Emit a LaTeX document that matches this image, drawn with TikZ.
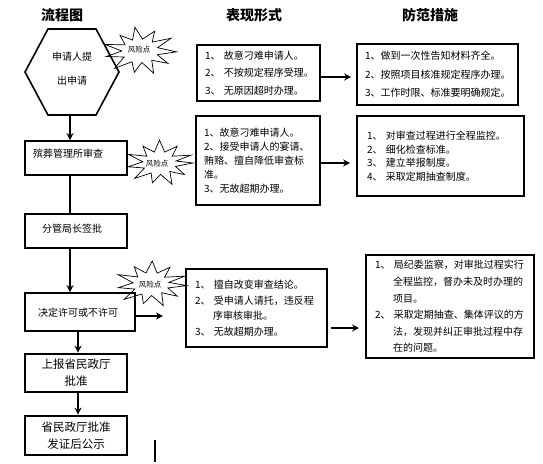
\documentclass[tikz,border=0pt]{standalone}
\usepackage{fontspec}
\setmainfont{Noto Sans CJK SC}
\usetikzlibrary{arrows.meta}
\tikzset{
  hdr/.style={font=\fontsize{14}{14}\selectfont\bfseries, inner sep=0pt},
  lbox/.style={draw, line width=1.6pt, inner sep=0pt},
  ltxt/.style={inner sep=0pt, font=\fontsize{10}{12}\selectfont},
  tbox/.style={draw, line width=1.6pt, align=left, inner xsep=8pt, inner ysep=0pt},
  heavy/.style={draw, line width=2.6pt, inner sep=0pt, align=center, font=\fontsize{11.5}{17}\selectfont},
  riskline/.style={draw, fill=white, line width=0.7pt, line join=miter},
  risklbl/.style={inner sep=0pt, font=\fontsize{7.5}{8}\selectfont},
  arr/.style={line width=1.4pt, -{Stealth[length=7pt,width=7pt]}},
  conn/.style={line width=1.4pt},
}
\begin{document}
\begin{tikzpicture}[x=1pt,y=-1pt]
\useasboundingbox (0,0) rectangle (543,463);

% headers
\node[hdr] (t1) at (62,15) {流程图};
\node[hdr] (t2) at (254,15) {表现形式};
\node[hdr] (t3) at (430,15) {防范措施};

% risk stars
\begin{scope}[shift={(140,51)}, xscale=36.5, yscale=24]
\path[riskline] (2:1) \foreach \a/\r in {18/0.5,34/0.92,50/0.5,68/1.0,84/0.48,100/0.9,116/0.5,134/1.0,150/0.5,166/0.95,180/0.5,196/1.0,212/0.48,230/0.85,246/0.5,262/1.0,278/0.5,296/0.92,312/0.5,328/1.0,344/0.5} { -- (\a:\r) } -- cycle;
\end{scope}
\begin{scope}[shift={(159.5,163)}, xscale=33.5, yscale=23]
\path[riskline] (0:1) \foreach \a/\r in {17/0.5,34/0.9,50/0.48,68/1.0,86/0.5,104/0.88,120/0.5,138/1.0,154/0.5,170/0.95,186/0.5,202/1.0,218/0.48,236/0.88,252/0.5,270/1.0,288/0.5,306/0.9,322/0.48,340/1.0,350/0.5} { -- (\a:\r) } -- cycle;
\end{scope}
\begin{scope}[shift={(151,284)}, xscale=36, yscale=23]
\path[riskline] (4:1) \foreach \a/\r in {20/0.5,36/0.9,52/0.48,70/1.0,88/0.5,104/0.88,120/0.5,138/1.0,154/0.5,170/0.92,186/0.5,204/1.0,220/0.48,238/0.88,254/0.5,272/1.0,290/0.5,306/0.9,322/0.48,340/1.0,352/0.5} { -- (\a:\r) } -- cycle;
\end{scope}
\node[risklbl] (s1) at (139,50) {风险点};
\node[risklbl] (s2) at (157,164) {风险点};
\node[risklbl] (s3) at (150,285) {风险点};

% hexagon
\draw[line width=1.6pt] (25,72) -- (48,29) -- (96,29) -- (119,72) -- (96,115) -- (48,115) -- cycle;
\node[ltxt, align=center, font=\fontsize{10}{24}\selectfont] (hex) at (72,69) {申请人提\\出申请};
\coordinate (hexb) at (70,115);

% left column boxes
\node[lbox, minimum width=102pt, minimum height=34pt] (b2) at (76,158) {};
\node[ltxt, anchor=west] (b2t) at (33,154) {殡葬管理所审查};
\node[lbox, minimum width=102pt, minimum height=34pt] (b3) at (76,231) {};
\node[ltxt] (b3t) at (72,229) {分管局长签批};
\node[lbox, minimum width=110pt, minimum height=38pt] (b4) at (80,312) {};
\node[ltxt] (b4t) at (78,313) {决定许可或不许可};
\node[heavy, minimum width=102pt, minimum height=38pt] (b5) at (76,373) {上报省民政厅\\批准};
\node[heavy, minimum width=102pt, minimum height=39pt] (b6) at (76,435.5) {省民政厅批准\\发证后公示};

% left connectors
\coordinate (xa) at (70,0);
\coordinate (xb) at (78,0);
\draw[arr] (hexb) -- (b2.north -| xa);
\draw[conn] (b2.south -| xa) -- (b3.north -| xa);
\draw[arr] (b3.south -| xa) -- (b4.north -| xa);
\draw[arr] (b4.south -| xb) -- (b5.north -| xb);
\draw[arr] (b5.south -| xb) -- (b6.north -| xb);
\coordinate (b4r) at (163,316);
\draw[arr] (b4.east |- b4r) -- (b4r);

% middle column
\node[tbox, text width=107pt, minimum height=56pt, font=\fontsize{10}{17.5}\selectfont] (r1a) at (258.5,73)
  {1、~故意刁难申请人。\\2、~不按规定程序受理。\\3、~无原因超时办理。};
\node[tbox, text width=108pt, minimum height=89pt, font=\fontsize{10}{14}\selectfont] (r2a) at (258,160.5)
  {1、故意刁难申请人。\\2、接受申请人的宴请、\\贿赂、擅自降低审查标\\准。\\3、无故超期办理。};
\node[tbox, inner xsep=9pt, text width=123pt, minimum height=78pt, font=\fontsize{10}{15.5}\selectfont] (r3a) at (256.5,308)
  {1、~擅自改变审查结论。\\2、~受申请人请托，违反程\\\hspace*{18pt}序审核审批。\\3、~无故超期办理。};

% right column
\node[tbox, text width=145pt, minimum height=61pt, font=\fontsize{10}{18.5}\selectfont] (r1b) at (437.5,74.5)
  {1、做到一次性告知材料齐全。\\2、按照项目核准规定程序办理。\\3、工作时限、标准要明确规定。};
\node[tbox, inner xsep=10pt, text width=147pt, minimum height=80pt, font=\fontsize{10}{13.5}\selectfont] (r2b) at (440.5,156)
  {1、~对审查过程进行全程监控。\\2、~细化检查标准。\\3、~建立举报制度。\\4、~采取定期抽查制度。};
\node[tbox, inner xsep=9pt, text width=150pt, minimum height=103pt, line width=2pt, font=\fontsize{10}{16.6}\selectfont] (r3b) at (450,306.5)
  {1、~局纪委监察，对审批过程实行\\\hspace*{18pt}全程监控，督办未及时办理的\\\hspace*{18pt}项目。\\2、~采取定期抽查、集体评议的方\\\hspace*{18pt}法，发现并纠正审批过程中存\\\hspace*{18pt}在的问题。};

% horizontal arrows
\coordinate (y1) at (0,77);
\coordinate (y2) at (0,163);
\coordinate (y3) at (0,328);
\draw[arr, shorten >=5pt] (r1a.east |- y1) -- (r1b.west |- y1);
\draw[arr, shorten >=6pt] (r2a.east |- y2) -- (r2b.west |- y2);
\draw[arr, shorten <=3pt, shorten >=6pt] (r3a.east |- y3) -- (r3b.west |- y3);

% text cursor
\draw[line width=1.2pt] (155,440) -- (155,462);
\end{tikzpicture}
\end{document}
